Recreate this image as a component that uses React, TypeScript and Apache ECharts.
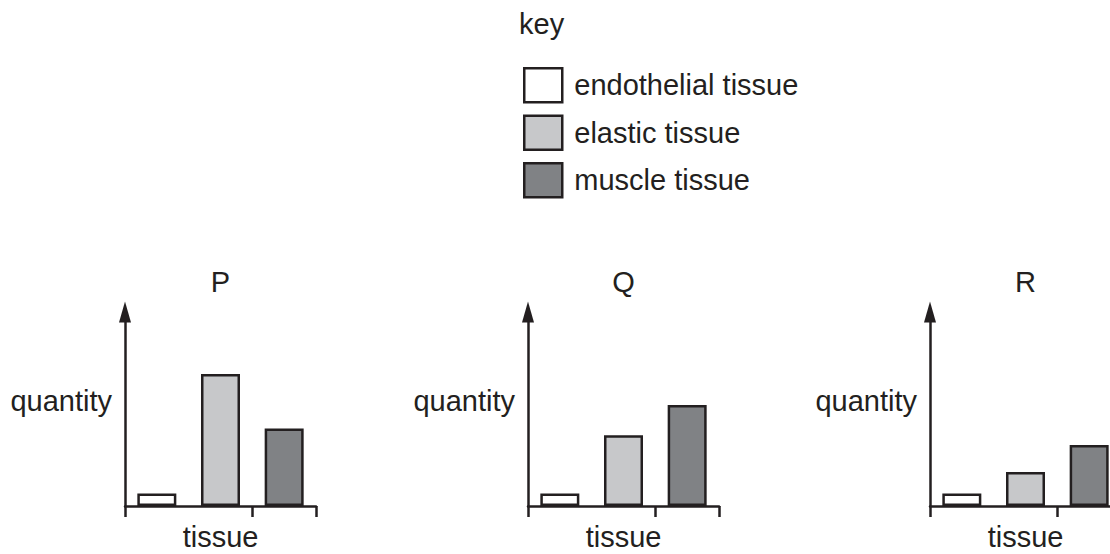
import React, { useEffect, useRef } from 'react';
import * as echarts from 'echarts';

// ---- data ----
const panelNames = ['P', 'Q', 'R'];
const tissues = ['endothelial tissue', 'elastic tissue', 'muscle tissue'];
const tissueColors = ['#ffffff', '#c7c8ca', '#808285'];
const valuesP = [6.5, 68, 40];
const valuesQ = [6.5, 36.5, 52];
const valuesR = [6.5, 17.5, 31.5];
const panelValues = [valuesP, valuesQ, valuesR];
const keyTitle = 'key';
const xAxisName = 'tissue';
const yAxisName = 'quantity';

// ---- layout ----
const INK = '#231f20';
const FONT = '"Liberation Sans", Arial, Helvetica, sans-serif';
const FS = 29;
const gridLefts = [125, 528, 930];
const GRID_TOP = 312;
const GRID_W = 191;
const GRID_H = 194;

export default function App() {
  const ref = useRef<HTMLDivElement>(null);

  useEffect(() => {
    if (!ref.current) return;
    const chart = echarts.init(ref.current, undefined, { renderer: 'svg' });

    const grids = gridLefts.map((left) => ({
      left,
      top: GRID_TOP,
      width: GRID_W,
      height: GRID_H,
      containLabel: false,
      outerBoundsMode: 'none',
    }));

    const xAxes = gridLefts.map((_, i) => ({
      type: 'category',
      gridIndex: i,
      data: tissues,
      boundaryGap: true,
      name: xAxisName,
      nameLocation: 'middle',
      nameGap: 19.5,
      nameTextStyle: { color: INK, fontSize: FS, fontFamily: FONT, lineHeight: 22 },
      axisLine: { show: true, lineStyle: { color: INK, width: 2.5 } },
      axisTick: { show: true, length: 11, lineStyle: { color: INK, width: 2.5 } },
      axisLabel: { show: false },
      splitLine: { show: false },
    }));

    const yAxes = gridLefts.map((_, i) => ({
      type: 'value',
      gridIndex: i,
      min: 0,
      max: 100,
      name: yAxisName,
      nameLocation: 'middle',
      nameRotate: 0,
      nameGap: 13,
      nameTextStyle: {
        color: INK,
        fontSize: FS,
        fontFamily: FONT,
        lineHeight: 16,
        verticalAlign: 'bottom',
      },
      axisLine: {
        show: true,
        symbol: ['none', 'triangle'],
        symbolSize: [12, 21],
        lineStyle: { color: INK, width: 2.5 },
      },
      axisTick: { show: false },
      axisLabel: { show: false },
      splitLine: { show: false },
    }));

    const series: any[] = [];
    panelValues.forEach((vals, i) => {
      tissues.forEach((t, j) => {
        series.push({
          type: 'bar',
          name: t,
          xAxisIndex: i,
          yAxisIndex: i,
          barWidth: 39,
          barGap: '-100%',
          data: tissues.map((_, k) => (k === j ? vals[j] : '-')),
          itemStyle: { color: tissueColors[j], borderColor: INK, borderWidth: 2.5 },
          emphasis: { disabled: true },
        });
      });
    });

    const titles: any[] = [
      {
        text: keyTitle,
        left: 519,
        top: 9,
        padding: 0,
        textStyle: { color: INK, fontSize: FS, fontWeight: 'normal', fontFamily: FONT },
      },
      ...panelNames.map((p, i) => ({
        text: p,
        left: gridLefts[i] + GRID_W / 2,
        top: 267,
        padding: 0,
        textAlign: 'center',
        textStyle: { color: INK, fontSize: FS, fontWeight: 'normal', fontFamily: FONT },
      })),
    ];

    chart.setOption({
      animation: false,
      backgroundColor: '#ffffff',
      title: titles,
      legend: {
        orient: 'vertical',
        left: 523,
        top: 67,
        padding: 0,
        itemWidth: 38,
        itemHeight: 34,
        itemGap: 11,
        icon: 'rect',
        selectedMode: false,
        data: tissues,
        itemStyle: { borderColor: INK, borderWidth: 2.5 },
        textStyle: {
          color: INK,
          fontSize: FS,
          fontFamily: FONT,
          lineHeight: 34,
          padding: [0, 0, 0, 7],
        },
      },
      grid: grids,
      xAxis: xAxes,
      yAxis: yAxes,
      series,
    });

    return () => chart.dispose();
  }, []);

  return (
    <div
      ref={ref}
      style={{ position: 'fixed', left: 0, top: 0, width: 1110, height: 554, background: '#ffffff' }}
    />
  );
}
